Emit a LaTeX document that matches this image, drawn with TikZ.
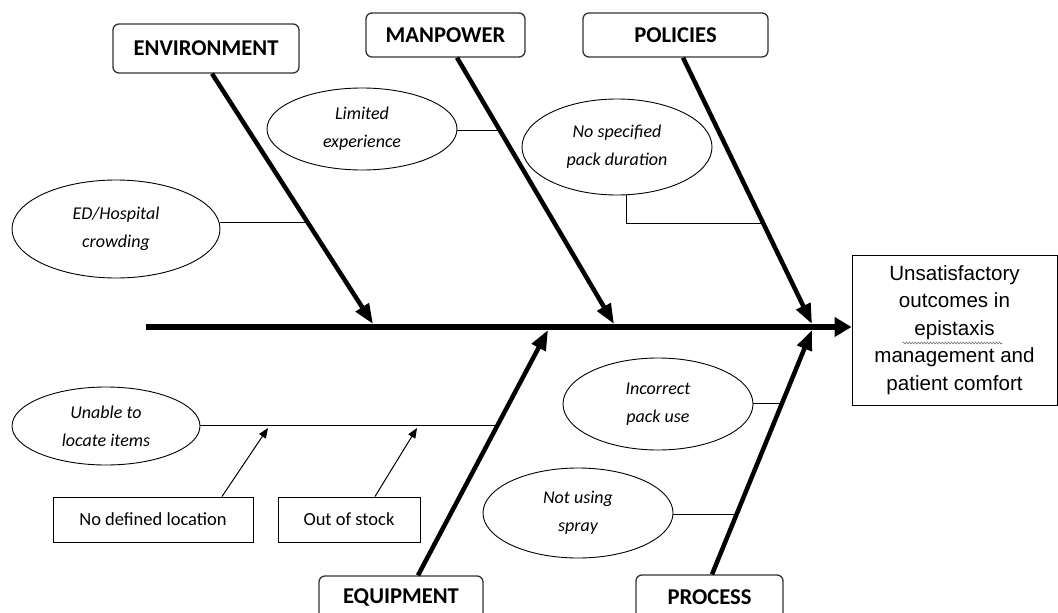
\documentclass[tikz,border=0pt]{standalone}
\usepackage{fontspec}
\setmainfont{Carlito}
\newfontfamily\arialfont{Liberation Sans}
\usetikzlibrary{arrows.meta,shapes.geometric,calc,decorations.pathmorphing}

\begin{document}
\begin{tikzpicture}[x=1pt,y=-1pt,
 cat/.style={draw=black!80, line width=1.3pt, rounded corners=6pt, font=\fontsize{22.6}{25}\selectfont\bfseries, inner sep=0pt},
 cause/.style={draw, ellipse, line width=0.9pt, font=\fontsize{18}{28}\selectfont\itshape, align=center, inner sep=0pt},
 sub/.style={draw, line width=1pt, font=\fontsize{18.5}{22}\selectfont, inner sep=0pt},
 effectbox/.style={draw, line width=1pt, font=\arialfont\fontsize{20.6}{27.5}\selectfont, align=center, inner sep=0pt},
 bone/.style={line width=4.5pt, -{Triangle[length=20pt,width=15pt]}},
 spine/.style={line width=6pt, -{Triangle[length=17pt,width=19pt]}},
 twig/.style={line width=1pt},
 subarrow/.style={line width=1pt, -{Triangle[length=10pt,width=8pt]}}
]
\useasboundingbox (0,0) rectangle (1058,613);
\clip (0,0) rectangle (1058,613);

% category boxes
\node[cat, minimum width=186pt, minimum height=49pt] (env) at (206,48.5) {ENVIRONMENT};
\node[cat, minimum width=159pt, minimum height=44pt] (man) at (445.5,35) {MANPOWER};
\node[cat, minimum width=185pt, minimum height=44pt] (pol) at (675.5,35) {POLICIES};
\node[cat, minimum width=164pt, minimum height=44pt] (equ) at (401,598) {EQUIPMENT};
\node[cat, minimum width=147pt, minimum height=44pt] (pro) at (709.5,597) {PROCESS};

% effect
\node[effectbox, minimum width=205pt, minimum height=150pt] (eff) at (954.5,330)
  {Unsatisfactory\\outcomes in\\epistaxis\\management and\\patient comfort};
\draw[black!55, line width=0.6pt, decorate, decoration={snake, amplitude=0.9pt, segment length=3pt}]
  ($(eff.center)+(-52,13)$) -- ($(eff.center)+(48,13)$);

% causes
\node[cause, minimum width=208pt, minimum height=98pt] (edh) at (116,229) {ED/Hospital\\crowding};
\node[cause, minimum width=190pt, minimum height=82pt] (lim) at (362,129) {Limited\\experience};
\node[cause, minimum width=190pt, minimum height=96pt] (nsp) at (617,147) {No specified\\pack duration};
\node[cause, minimum width=188pt, minimum height=78pt] (unl) at (106,426) {Unable to\\locate items};
\node[cause, minimum width=190pt, minimum height=92pt] (inc) at (658,404) {Incorrect\\pack use};
\node[cause, minimum width=190pt, minimum height=90pt] (nus) at (578,513) {Not using\\spray};

% sub causes
\node[sub, minimum width=200pt, minimum height=45pt] (ndl) at (153,519.5) {No defined location};
\node[sub, minimum width=142pt, minimum height=45pt] (oos) at (349,519.5) {Out of stock};

% spine
\coordinate (spS) at (146,327);
\draw[spine] (spS) -- (spS -| eff.west);

% bone endpoints
\coordinate (envS) at ([xshift=6pt]env.south);
\coordinate (envT) at (373,324);
\coordinate (manS) at ([xshift=11.5pt]man.south);
\coordinate (manT) at (614,324);
\coordinate (polS) at ([xshift=7.5pt]pol.south);
\coordinate (polT) at (812,324);
\coordinate (equS) at ([xshift=17pt]equ.north);
\coordinate (equT) at (548,330);
\coordinate (proS) at ([xshift=2.5pt]pro.north);
\coordinate (proT) at (812,330);

\draw[bone] (envS) -- (envT);
\draw[bone] (manS) -- (manT);
\draw[bone] (polS) -- (polT);
\draw[bone] (equS) -- (equT);
\draw[bone] (proS) -- (proT);

% attach points on bones
\path (envS) -- (envT) coordinate[pos=0.594] (envA);
\path (manS) -- (manT) coordinate[pos=0.275] (manA);
\path (polS) -- (polT) coordinate[pos=0.623] (polA);
\path (equS) -- (equT) coordinate[pos=0.611] (equA);
\path (proS) -- (proT) coordinate[pos=0.70] (proA);
\path (proS) -- (proT) coordinate[pos=0.247] (proB);

% twigs
\draw[twig] (edh.east |- envA) -- (envA);
\draw[twig] (lim.east |- manA) -- (manA);
\draw[twig] ([xshift=9pt]nsp.south) -- ([xshift=9pt]nsp.south |- polA) -- (polA);
\draw[twig] (unl.east |- equA) -- (equA);
\draw[twig] (inc.east |- proA) -- (proA);
\draw[twig] (nus.east |- proB) -- (proB);

% sub-cause arrows
\coordinate (ndlT) at (268,428);
\coordinate (oosT) at (417,428);
\draw[subarrow] ([xshift=69pt]ndl.north) -- (ndlT);
\draw[subarrow] ([xshift=26pt]oos.north) -- (oosT);
\end{tikzpicture}
\end{document}
